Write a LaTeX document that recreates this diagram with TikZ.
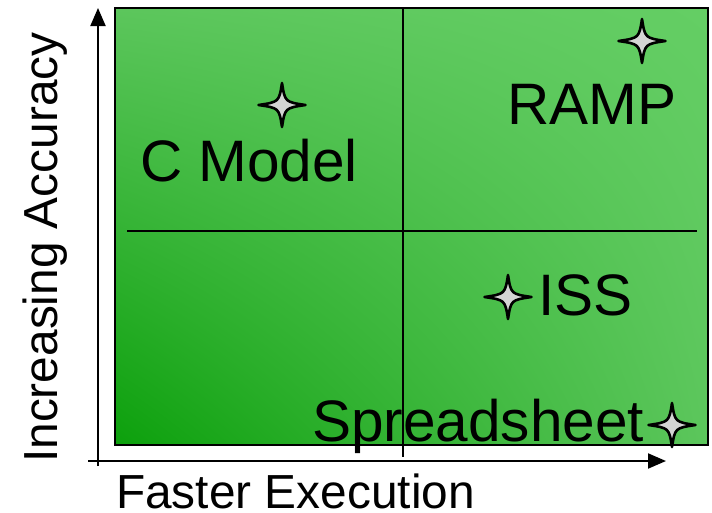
\documentclass[tikz,border=0pt]{standalone}
\usepackage{fontspec}
\setmainfont{Liberation Sans}
\usetikzlibrary{arrows.meta,shadings}
\definecolor{gdark}{RGB}{12,160,12}
\definecolor{gmid}{RGB}{92,198,92}
\definecolor{glight}{RGB}{100,206,100}
\definecolor{stargray}{RGB}{212,212,212}
\tikzset{
  axisline/.style={line width=2pt, -{Triangle[length=18pt,width=15pt]}},
  divider/.style={line width=1.6pt},
  label/.style={inner sep=0pt, anchor=base west, font=\fontsize{58.5}{60}\selectfont},
  axislabel/.style={inner sep=0pt, anchor=base west, font=\fontsize{47.8}{50}\selectfont},
  sparkle/.pic={
    \draw[line width=2.6pt, fill=stargray, line join=round]
      (0,-22) .. controls (3,-3) .. (23.5,0)
      .. controls (3,3) .. (0,22)
      .. controls (-3,3) .. (-23.5,0)
      .. controls (-3,-3) .. cycle;
  }
}
\begin{document}
\begin{tikzpicture}[x=1pt,y=-1pt]
\useasboundingbox (0,0) rectangle (712,512);
% quadrant panel
\coordinate (tl) at (115,8);
\coordinate (br) at (708,445);
\shade[lower left=gdark, upper left=gmid, lower right=gmid, upper right=glight]
  (115,445) rectangle (708,8);
\draw[line width=2pt] (tl) rectangle (br);
% quadrant dividers
\coordinate (vtop) at (403,8);
\coordinate (vbot) at (403,457);
\coordinate (hl) at (127,231);
\coordinate (hr) at (697,231);
\draw[divider] (vtop) -- (vbot);
\draw[divider] (hl) -- (hr);
% axes
\coordinate (yfrom) at (98,466);
\coordinate (yto) at (98,8);
\coordinate (xfrom) at (88,461);
\coordinate (xto) at (666,461);
\draw[axisline] (yfrom) -- (yto);
\draw[axisline] (xfrom) -- (xto);
% markers
\pic at (282,105) {sparkle};
\pic at (642,41) {sparkle};
\pic at (508,297) {sparkle};
\pic at (672,425) {sparkle};
% labels
\node[label] (cmodel) at (140,181) {C Model};
\node[label] (ramp) at (507,124) {RAMP};
\node[label] (iss) at (538,315) {ISS};
\node[label] (sheet) at (312,441) {Spreadsheet};
\node[axislabel] (xlab) at (116,508) {Faster Execution};
\node[axislabel, rotate=90] (ylab) at (57,463) {Increasing Accuracy};
\end{tikzpicture}
\end{document}
